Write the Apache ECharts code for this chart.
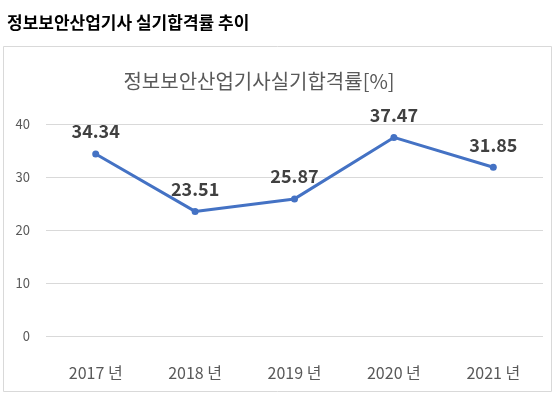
<!DOCTYPE html>
<html>
<head>
<meta charset="utf-8">
<script src="https://cdn.jsdelivr.net/npm/echarts@6/dist/echarts.min.js"></script>
<style>
  html, body { margin: 0; padding: 0; background: #fff; }
  #chart { width: 558px; height: 398px; }
</style>
</head>
<body>
<div id="chart"></div>
<script>
const years = ['2017 년', '2018 년', '2019 년', '2020 년', '2021 년'];
const passRates = [34.34, 23.51, 25.87, 37.47, 31.85];

const FONT = "'Noto Sans CJK KR', 'Noto Sans', sans-serif";

const chart = echarts.init(document.getElementById('chart'));
chart.setOption({
  backgroundColor: '#fff',
  animation: false,
  textStyle: { fontFamily: FONT },
  graphic: [
    // outer page heading
    {
      type: 'text', left: 7, top: 14,
      style: { text: '정보보안산업기사 실기합격률 추이', font: 'bold 17px ' + FONT, fill: '#000' },
    },
    // chart frame
    {
      type: 'rect', shape: { x: 3.5, y: 46.5, width: 548, height: 345 },
      style: { fill: 'none', stroke: '#d9d9d9', lineWidth: 1 }, z: -1,
    },
    // inner chart title
    {
      type: 'text', x: 259, y: 81,
      style: {
        text: '정보보안산업기사실기합격률[%]', font: '20px ' + FONT, fill: '#595959',
        align: 'center', verticalAlign: 'middle',
      },
    },
  ],
  grid: { left: 46, right: 15, top: 124, bottom: 62 },
  xAxis: {
    type: 'category',
    data: years,
    axisLine: { show: false },
    axisTick: { show: false },
    axisLabel: { color: '#595959', fontSize: 16, margin: 29, fontFamily: FONT },
  },
  yAxis: {
    type: 'value',
    min: 0, max: 40, interval: 10,
    axisLine: { show: false },
    axisTick: { show: false },
    axisLabel: { color: '#595959', fontSize: 13, margin: 16, fontFamily: FONT },
    splitLine: { lineStyle: { color: '#d9d9d9', width: 1 } },
  },
  series: [
    {
      type: 'line',
      data: passRates,
      symbol: 'circle',
      symbolSize: 7,
      lineStyle: { color: '#4472c4', width: 3 },
      itemStyle: { color: '#4472c4' },
      label: {
        show: true, position: 'top', distance: 10,
        color: '#404040', fontSize: 18, fontWeight: 'bold', fontFamily: FONT,
        formatter: (p) => p.value.toFixed(2),
      },
    },
  ],
});
</script>
</body>
</html>
